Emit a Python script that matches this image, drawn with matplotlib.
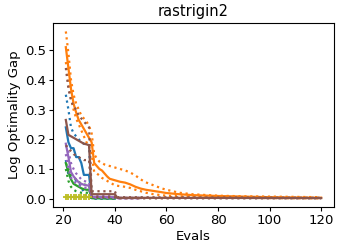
import matplotlib
matplotlib.use("Agg")
import matplotlib.pyplot as plt

title = "rastrigin2"
xlabel = "Evals"
ylabel = "Log Optimality Gap"
xticks = [20, 40, 60, 80, 100, 120]
yticks = [0.0, 0.1, 0.2, 0.3, 0.4, 0.5]

# blue
blue_x = [21, 22, 23, 24, 25, 26, 27, 28, 29, 30, 31, 40]
blue_mean = [0.24, 0.19, 0.17, 0.17, 0.14, 0.14, 0.12, 0.08, 0.08, 0.08, 0.002, 0.001]
blue_hi = [0.35, 0.30, 0.24, 0.22, 0.21, 0.20, 0.19, 0.185, 0.18, 0.18, 0.003, 0.002]
blue_lo = [0.13, 0.08, 0.07, 0.065, 0.06, 0.05, 0.04, 0.02, 0.01, 0.01, 0.0, 0.0]

# orange
orange_x = [21, 22, 23, 24, 25, 26, 27, 28, 29, 30, 31, 32, 33, 34, 35, 36, 37, 38, 40,
            42, 44, 46, 48, 50, 52, 55, 58, 60, 65, 70, 80, 90, 100, 110, 120]
orange_mean = [0.51, 0.44, 0.37, 0.32, 0.29, 0.265, 0.25, 0.235, 0.22, 0.205, 0.19, 0.12,
               0.11, 0.10, 0.095, 0.085, 0.075, 0.067, 0.062, 0.057, 0.054, 0.048, 0.04,
               0.034, 0.03, 0.026, 0.022, 0.019, 0.015, 0.012, 0.009, 0.007, 0.005, 0.004, 0.003]
orange_hi = [0.563, 0.49, 0.40, 0.35, 0.32, 0.30, 0.28, 0.27, 0.26, 0.245, 0.22, 0.15,
             0.135, 0.125, 0.12, 0.115, 0.112, 0.11, 0.105, 0.10, 0.095, 0.088, 0.078,
             0.065, 0.055, 0.045, 0.035, 0.03, 0.02, 0.015, 0.01, 0.008, 0.007, 0.006, 0.005]
orange_lo = [0.46, 0.40, 0.34, 0.30, 0.27, 0.25, 0.23, 0.21, 0.19, 0.175, 0.15, 0.09,
             0.085, 0.078, 0.07, 0.065, 0.06, 0.055, 0.045, 0.042, 0.04, 0.036, 0.03,
             0.025, 0.02, 0.015, 0.012, 0.01, 0.008, 0.006, 0.004, 0.003, 0.002, 0.0015, 0.001]

# green
green_x = [21, 22, 23, 24, 25, 26, 27, 28, 29, 30, 31, 40]
green_mean = [0.12, 0.09, 0.065, 0.05, 0.045, 0.04, 0.035, 0.032, 0.03, 0.03, 0.002, 0.001]
green_hi = [0.12, 0.10, 0.08, 0.07, 0.065, 0.057, 0.05, 0.048, 0.046, 0.045, 0.003, 0.002]
green_lo = [0.10, 0.06, 0.04, 0.03, 0.025, 0.022, 0.02, 0.02, 0.02, 0.02, 0.001, 0.0]

# purple
purple_x = [21, 22, 23, 24, 25, 26, 27, 28, 29, 30, 31, 40, 41, 50]
purple_mean = [0.185, 0.14, 0.09, 0.075, 0.065, 0.055, 0.05, 0.047, 0.045, 0.044, 0.006,
               0.005, 0.002, 0.002]
purple_hi = [0.18, 0.16, 0.12, 0.10, 0.085, 0.075, 0.065, 0.06, 0.057, 0.055, 0.01,
             0.008, 0.003, 0.003]
purple_lo = [0.15, 0.10, 0.07, 0.06, 0.05, 0.045, 0.04, 0.038, 0.036, 0.035, 0.003,
             0.002, 0.001, 0.001]

# brown
brown_x = [21, 22, 23, 24, 25, 26, 27, 28, 29, 30, 31, 40, 41, 120]
brown_mean = [0.265, 0.215, 0.21, 0.205, 0.20, 0.195, 0.19, 0.185, 0.183, 0.18, 0.015,
              0.015, 0.003, 0.002]
brown_hi = [0.44, 0.37, 0.33, 0.31, 0.30, 0.28, 0.27, 0.26, 0.25, 0.24, 0.025, 0.025,
            0.005, 0.003]
brown_lo = [0.18, 0.17, 0.16, 0.15, 0.145, 0.14, 0.135, 0.13, 0.13, 0.13, 0.005, 0.005,
            0.001, 0.001]

# olive
olive_x = [21, 22, 23, 24, 25, 26, 27, 28, 29, 30]
olive_mean = [0.005, 0.005, 0.005, 0.005, 0.005, 0.005, 0.005, 0.005, 0.005, 0.005]

series = [
    ("C0", blue_x, blue_mean, blue_hi, blue_lo),
    ("C1", orange_x, orange_mean, orange_hi, orange_lo),
    ("C2", green_x, green_mean, green_hi, green_lo),
    ("C4", purple_x, purple_mean, purple_hi, purple_lo),
    ("C5", brown_x, brown_mean, brown_hi, brown_lo),
]

fig = plt.figure(figsize=(3.38, 2.43), dpi=100)
ax = fig.add_axes([0.157, 0.148, 0.831, 0.757])
lw = 1.6
for c, x, m, hi, lo in series:
    ax.plot(x, m, color=c, lw=lw)
    ax.plot(x, hi, color=c, lw=lw, ls=":")
    ax.plot(x, lo, color=c, lw=lw, ls=":")
ax.plot(olive_x, olive_mean, color="C8", lw=lw, marker="+", ms=5, mew=1.3)

ax.set_title(title, fontsize=10.5, pad=5)
ax.set_xlabel(xlabel, fontsize=9.5, labelpad=2)
ax.set_ylabel(ylabel, fontsize=9.5, labelpad=3)
ax.tick_params(labelsize=9.5, length=3, pad=2)
ax.set_xticks(xticks)
ax.set_yticks(yticks)
fig.savefig("out.png", dpi=100)
